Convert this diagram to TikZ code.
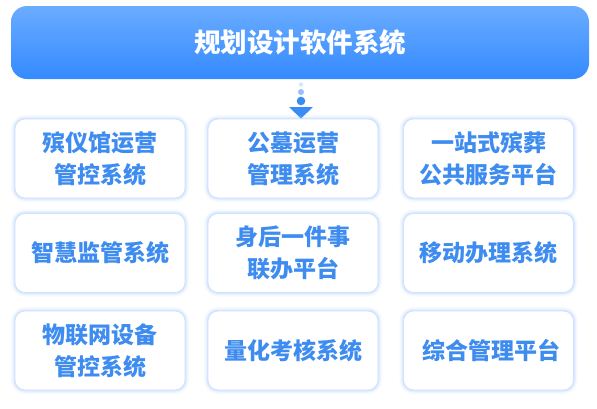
\documentclass[tikz,border=0pt]{standalone}
\usepackage{fontspec}
\setmainfont{Noto Sans CJK SC}
\definecolor{bantop}{RGB}{106,172,255}
\definecolor{banbot}{RGB}{52,138,255}
\definecolor{txtblue}{RGB}{62,140,240}
\definecolor{cardborder}{RGB}{208,226,252}
\definecolor{glowc}{RGB}{170,205,255}
\definecolor{dotA}{RGB}{214,228,252}
\definecolor{dotB}{RGB}{150,192,250}
\definecolor{arrowc}{RGB}{58,140,245}
\tikzset{
  card/.style={rectangle, rounded corners=10pt, fill=white, draw=cardborder, line width=0.8pt,
    preaction={draw=glowc, line width=8pt, opacity=0.10},
    preaction={draw=glowc, line width=5pt, opacity=0.18},
    preaction={draw=glowc, line width=2.5pt, opacity=0.3},
    minimum width=170pt, minimum height=79pt, inner sep=0pt,
    text=txtblue, align=center, font=\bfseries\fontsize{23}{32}\selectfont},
  banner/.style={rectangle, rounded corners=16pt, top color=bantop, bottom color=banbot,
    draw=none, minimum width=578pt, minimum height=73pt, inner sep=0pt,
    text=white, font=\bfseries\fontsize{26.5}{30}\selectfont}
}
\begin{document}
\begin{tikzpicture}[x=1pt,y=-1pt]
\useasboundingbox (0,0) rectangle (597,408);
\node[banner] (top) at (300,42.5) {规划设计软件系统};
% connector icon
\fill[dotA] (301,84.5) circle (2.2pt);
\fill[dotB] (301,92) circle (3pt);
\fill[arrowc] (301,101) circle (4.3pt);
\coordinate (arrtip) at (301,118.5);
\fill[arrowc] (289,107) -- (313,107) -- (arrtip) -- cycle;
% row 1
\node[card] (c11) at (100,158.5) {殡仪馆运营\\管控系统};
\node[card] (c12) at (293,158.5) {公墓运营\\管理系统};
\node[card] (c13) at (488.5,158.5) {一站式殡葬\\公共服务平台};
% row 2
\node[card] (c21) at (100,253) {智慧监管系统};
\node[card] (c22) at (293,253) {身后一件事\\联办平台};
\node[card] (c23) at (488.5,253) {移动办理系统};
% row 3
\node[card] (c31) at (100,350.5) {物联网设备\\管控系统};
\node[card] (c32) at (293,350.5) {量化考核系统};
\node[card] (c33) at (488.5,350.5) {\hspace{6pt}综合管理平台};
\end{tikzpicture}
\end{document}
